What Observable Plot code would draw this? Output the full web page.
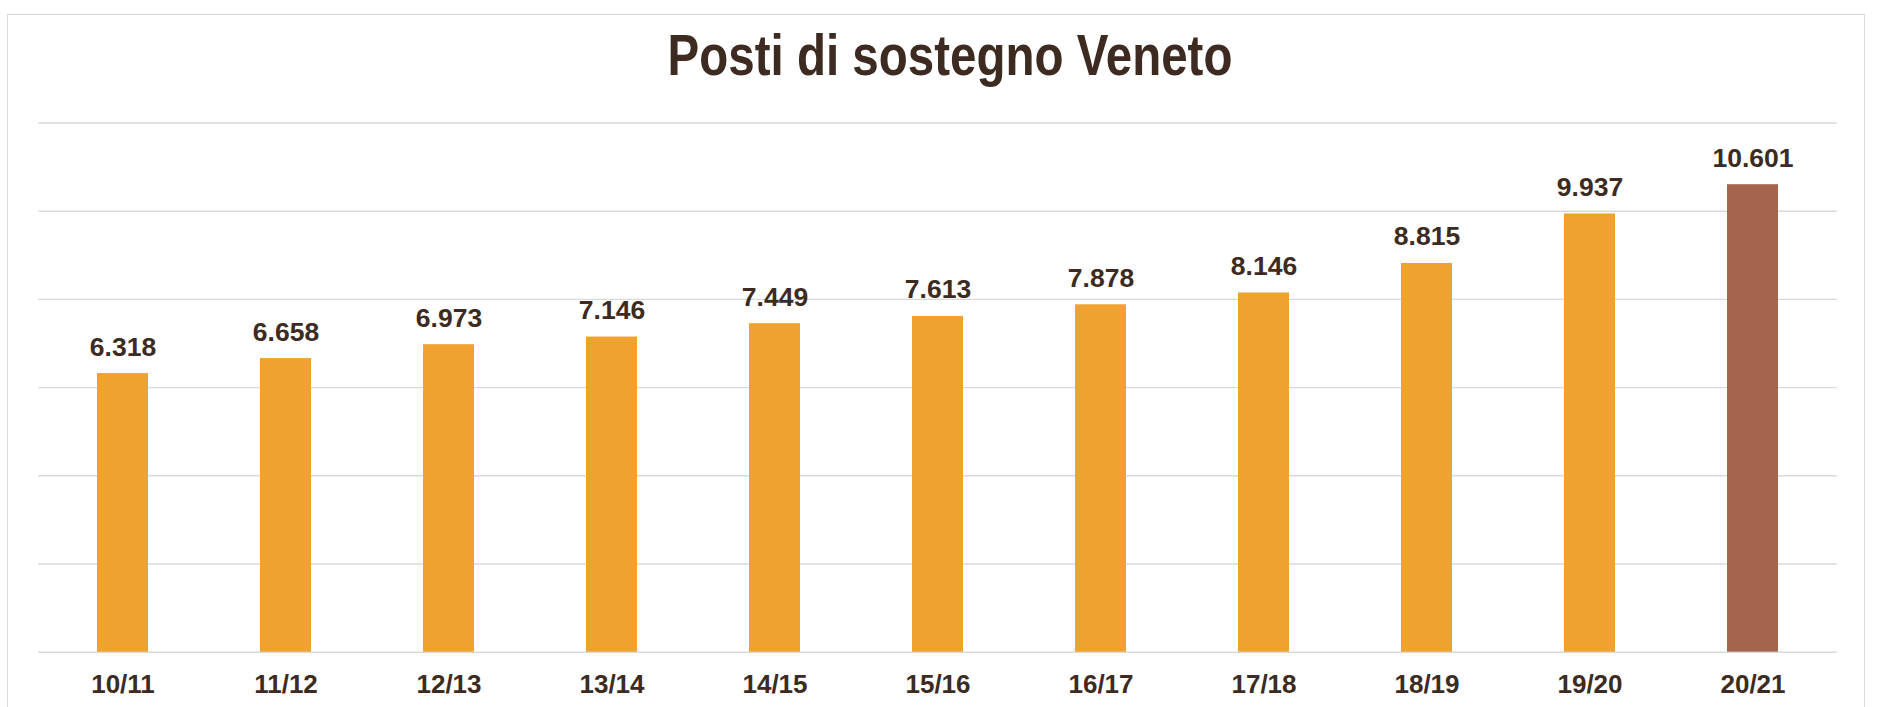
<!DOCTYPE html>
<html>
<head>
<meta charset="utf-8">
<script src="https://cdn.jsdelivr.net/npm/d3@7"></script>
<script src="https://cdn.jsdelivr.net/npm/@observablehq/plot@0.6"></script>
<style>
  html, body { margin: 0; padding: 0; background: #ffffff; overflow: hidden; }
  #page { position: relative; width: 1878px; height: 707px; overflow: hidden; font-family: "Liberation Sans", Arial, sans-serif; }
  #frame { position: absolute; left: 7px; top: 14px; width: 1858px; height: 760px; border: 1.5px solid #d9d9d9; box-sizing: border-box; }
  #title { position: absolute; left: 0; top: 26px; width: 1878px; padding-left: 22px; box-sizing: border-box; text-align: center;
           font-size: 47.5px; line-height: 1; font-weight: bold; color: #3d2b22; transform: scaleY(1.22); transform-origin: 50% 0; }
  #chart { position: absolute; left: 0; top: 100px; }
</style>
</head>
<body>
<div id="page">
  <div id="frame"></div>
  <div id="title">Posti di sostegno Veneto</div>
  <div id="chart"></div>
</div>
<script>
const seasons = ["10/11", "11/12", "12/13", "13/14", "14/15", "15/16", "16/17", "17/18", "18/19", "19/20", "20/21"];
const posti = [6318, 6658, 6973, 7146, 7449, 7613, 7878, 8146, 8815, 9937, 10601];
const gridTicks = [0, 2000, 4000, 6000, 8000, 10000, 12000];
const highlightSeason = "20/21";

const data = seasons.map((s, i) => ({season: s, value: posti[i]}));
const itFormat = d3.formatLocale({decimal: ",", thousands: ".", grouping: [3], currency: ["€", ""]}).format(",d");
const textColor = "#3d2b22";

const chart = Plot.plot({
  width: 1878,
  height: 607,
  marginTop: 22.5,
  marginBottom: 55.3,
  marginLeft: 38.3,
  marginRight: 41.3,
  style: {fontFamily: '"Liberation Sans", Arial, sans-serif', background: "transparent", overflow: "visible"},
  x: {domain: seasons, paddingInner: 0.688, paddingOuter: 0.344, label: null},
  y: {domain: [0, 12000], axis: null},
  marks: [
    Plot.ruleY(gridTicks, {stroke: "#d9d9d9", strokeWidth: 1.4}),
    Plot.barY(data, {x: "season", y: "value", fill: d => d.season === highlightSeason ? "#a5644e" : "#efa230"}),
    Plot.text(data, {x: "season", y: "value", text: d => itFormat(d.value), lineAnchor: "bottom", dy: -18,
      fontSize: 26.5, fontWeight: "bold", fill: textColor}),
    Plot.axisX({tickSize: 0, tickPadding: 22, fontSize: 26, fontWeight: "bold", color: textColor, label: null})
  ]
});
document.getElementById("chart").appendChild(chart);
</script>
</body>
</html>
